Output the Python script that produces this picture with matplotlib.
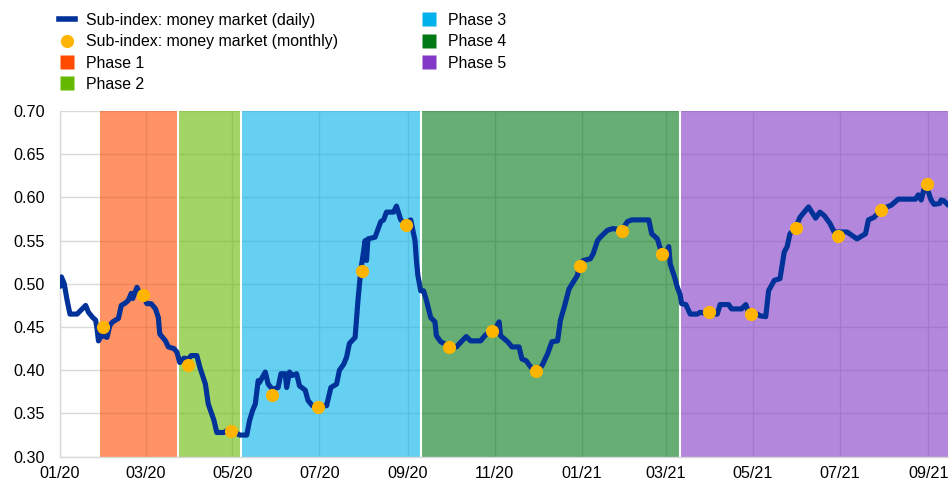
import numpy as np
import pandas as pd
import matplotlib
matplotlib.use('Agg')
import matplotlib.pyplot as plt
import matplotlib.dates as mdates
from matplotlib.lines import Line2D

plt.rcParams['font.family'] = ['Liberation Sans', 'DejaVu Sans']

# daily sub-index, days counted from 01/01/2020
daily_days = [0, 1, 3, 5, 7, 12, 15, 18, 20, 23, 25, 26, 27, 29, 30, 33, 35, 37, 41, 43,
              46, 48, 50, 51, 54, 56, 58, 61, 64, 67, 69, 70, 74, 76, 80, 82, 84, 87, 90, 92,
              96, 98, 102, 104, 108, 110, 115, 118, 123, 126, 131, 133, 135, 137, 139, 140, 144, 146, 149, 153,
              155, 158, 159, 161, 163, 166, 168, 172, 174, 177, 187, 190, 194, 196, 199, 201, 203, 207, 209, 211,
              212, 214, 215, 216, 221, 225, 227, 229, 234, 236, 239, 242, 246, 249, 250, 251, 253, 255, 257, 260,
              263, 264, 267, 273, 278, 282, 285, 288, 295, 298, 302, 306, 308, 309, 314, 317, 322, 324, 327, 330,
              333, 338, 342, 345, 349, 351, 354, 357, 360, 363, 364, 367, 372, 374, 377, 379, 384, 388, 394, 398,
              401, 413, 415, 419, 421, 424, 427, 428, 431, 433, 435, 436, 439, 442, 447, 449, 456, 461, 463, 469,
              471, 478, 481, 483, 489, 491, 495, 497, 501, 505, 508, 510, 512, 516, 519, 525, 530, 533, 536, 540,
              543, 552, 559, 565, 567, 571, 576, 583, 588, 600, 602, 604, 606, 607, 611, 613, 617, 618, 620, 623]
daily_vals = [0.497, 0.508, 0.500, 0.481, 0.465, 0.465, 0.470, 0.475, 0.467, 0.461, 0.458, 0.448, 0.434, 0.440, 0.440, 0.438, 0.452, 0.456, 0.460, 0.475,
              0.478, 0.481, 0.489, 0.483, 0.496, 0.489, 0.487, 0.477, 0.477, 0.471, 0.461, 0.442, 0.434, 0.427, 0.425, 0.421, 0.409, 0.414, 0.413, 0.417,
              0.417, 0.404, 0.384, 0.361, 0.342, 0.328, 0.328, 0.331, 0.328, 0.325, 0.325, 0.342, 0.353, 0.361, 0.388, 0.386, 0.398, 0.384, 0.378, 0.380,
              0.396, 0.396, 0.380, 0.398, 0.394, 0.396, 0.382, 0.377, 0.365, 0.359, 0.359, 0.380, 0.384, 0.400, 0.407, 0.415, 0.431, 0.438, 0.481, 0.516,
              0.527, 0.550, 0.527, 0.552, 0.554, 0.572, 0.574, 0.583, 0.583, 0.590, 0.574, 0.570, 0.574, 0.550, 0.527, 0.510, 0.492, 0.492, 0.481, 0.461,
              0.456, 0.440, 0.433, 0.428, 0.427, 0.434, 0.439, 0.434, 0.434, 0.440, 0.446, 0.450, 0.456, 0.440, 0.433, 0.427, 0.427, 0.413, 0.411, 0.404,
              0.399, 0.405, 0.419, 0.433, 0.434, 0.458, 0.475, 0.494, 0.502, 0.510, 0.521, 0.527, 0.529, 0.535, 0.550, 0.554, 0.562, 0.564, 0.562, 0.572,
              0.574, 0.574, 0.558, 0.552, 0.541, 0.533, 0.543, 0.523, 0.508, 0.496, 0.487, 0.477, 0.476, 0.465, 0.465, 0.467, 0.465, 0.465, 0.476, 0.476,
              0.471, 0.471, 0.476, 0.467, 0.465, 0.463, 0.462, 0.492, 0.504, 0.506, 0.537, 0.543, 0.558, 0.565, 0.577, 0.589, 0.576, 0.583, 0.579, 0.570,
              0.560, 0.560, 0.552, 0.558, 0.574, 0.577, 0.586, 0.591, 0.598, 0.598, 0.603, 0.597, 0.610, 0.616, 0.597, 0.592, 0.593, 0.597, 0.596, 0.591]

monthly_dates = ['2020-01-31', '2020-02-28', '2020-03-31', '2020-04-30', '2020-05-29', '2020-06-30',
                 '2020-07-31', '2020-08-31', '2020-09-30', '2020-10-30', '2020-11-30', '2020-12-31',
                 '2021-01-29', '2021-02-26', '2021-03-31', '2021-04-30', '2021-05-31', '2021-06-30',
                 '2021-07-30', '2021-08-31']
monthly_vals = [0.450, 0.487, 0.406, 0.330, 0.371, 0.358, 0.515, 0.568, 0.427, 0.446,
                0.399, 0.521, 0.561, 0.534, 0.467, 0.465, 0.565, 0.555, 0.586, 0.615]

phase_labels = ['Phase 1', 'Phase 2', 'Phase 3', 'Phase 4', 'Phase 5']
phase_starts = ['2020-01-29', '2020-03-24', '2020-05-07', '2020-09-10', '2021-03-11']
phase_ends = ['2020-03-24', '2020-05-07', '2020-09-10', '2021-03-11', '2021-09-15']
phase_colors = ['#FF4B00', '#65B800', '#00B1EA', '#007816', '#8139C6']

x_start = '2020-01-01'
x_end = '2021-09-15'

daily_x = pd.Timestamp(x_start) + pd.to_timedelta(daily_days, unit='D')
monthly_x = pd.to_datetime(monthly_dates)

fig = plt.figure(figsize=(9.49, 4.83), dpi=100)
ax = fig.add_axes([0.0632, 0.0545, 0.936, 0.7157])

for s, e, c in zip(phase_starts, phase_ends, phase_colors):
    ax.axvspan(pd.Timestamp(s), pd.Timestamp(e), color=c, alpha=0.6, lw=0, zorder=1)
for s in phase_starts[1:]:
    ax.axvline(pd.Timestamp(s), color='white', lw=1.5, zorder=2)

ax.plot(daily_x, daily_vals, color='#003299', lw=3.7, solid_joinstyle='round',
        solid_capstyle='round', zorder=3)
ax.plot(monthly_x, monthly_vals, 'o', color='#FFB400', ms=9.5, mec='none', zorder=4)

ax.set_xlim(pd.Timestamp(x_start), pd.Timestamp(x_end))
ax.set_ylim(0.30, 0.70)
ax.set_yticks(np.arange(0.30, 0.701, 0.05))
ax.yaxis.set_major_formatter(plt.FormatStrFormatter('%.2f'))
ax.xaxis.set_major_locator(mdates.MonthLocator(bymonth=[1, 3, 5, 7, 9, 11]))
ax.xaxis.set_major_formatter(mdates.DateFormatter('%m/%y'))

ax.set_axisbelow(True)
ax.grid(True, color='#D9D9D9', lw=1)
for side in ['top', 'right']:
    ax.spines[side].set_visible(False)
for side in ['left', 'bottom']:
    ax.spines[side].set_color('#D9D9D9')
    ax.spines[side].set_linewidth(1)
ax.tick_params(axis='both', length=0, labelsize=11.6, colors='black')
ax.tick_params(axis='y', pad=11)
ax.tick_params(axis='x', pad=7)

h_left = [Line2D([], [], color='#003299', lw=4),
          Line2D([], [], ls='none', marker='o', color='#FFB400', ms=9.5, mec='none'),
          Line2D([], [], ls='none', marker='s', color=phase_colors[0], ms=10, mec='none'),
          Line2D([], [], ls='none', marker='s', color=phase_colors[1], ms=10, mec='none')]
l_left = ['Sub-index: money market (daily)', 'Sub-index: money market (monthly)',
          phase_labels[0], phase_labels[1]]
h_right = [Line2D([], [], ls='none', marker='s', color=c, ms=10, mec='none') for c in phase_colors[2:]]

leg_kw = dict(loc='upper left', frameon=False, fontsize=11.4, handlelength=1.0,
              handletextpad=0.68, labelspacing=0.4, borderpad=0, borderaxespad=0)
fig.legend(h_left, l_left, bbox_to_anchor=(59 / 949, 1 - 13 / 483), **leg_kw)
fig.legend(h_right, phase_labels[2:], bbox_to_anchor=(421 / 949, 1 - 13 / 483), **leg_kw)

fig.savefig('out.png', dpi=100)
